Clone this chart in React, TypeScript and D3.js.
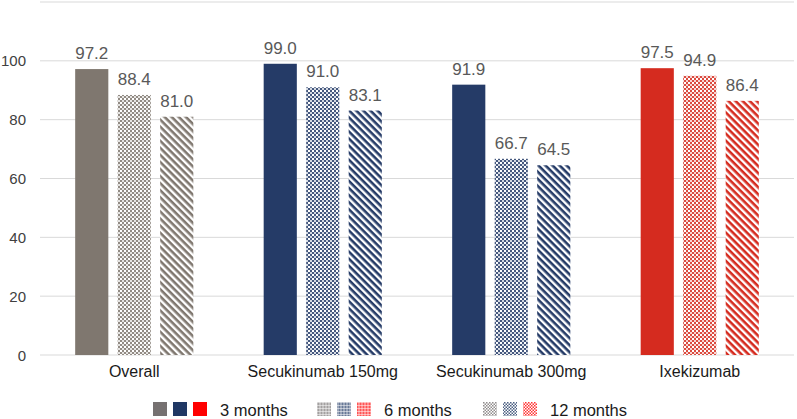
import React from "react";
import * as d3 from "d3";

const categories = ["Overall", "Secukinumab 150mg", "Secukinumab 300mg", "Ixekizumab"];
const seriesNames = ["3 months", "6 months", "12 months"];
const months3 = [97.2, 99.0, 91.9, 97.5];
const months6 = [88.4, 91.0, 66.7, 94.9];
const months12 = [81.0, 83.1, 64.5, 86.4];
const yTicks = [0, 20, 40, 60, 80, 100, 120];
const tickLabels = ["0", "20", "40", "60", "80", "100", ""];

const barColors = ["#7f776f", "#253b67", "#d52b1f"];
const legendColors = ["#767171", "#203864", "#ff0000"];

const W = 797;
const H = 419;
const FONT = "'Liberation Sans', Arial, sans-serif";

export default function App() {
  const series = [months3, months6, months12];
  const x0 = d3.scaleBand<string>().domain(categories).range([40, 794]).paddingInner(0).paddingOuter(0);
  const inner = d3.scaleBand<number>().domain([0, 1, 2]).range([-63.75, 63.75]).paddingInner(0.22).paddingOuter(0.11);
  const y = d3.scaleLinear().domain([0, 120]).range([355, 2]);

  const patId = (s: number, c: number) => {
    if (s === 0) return null;
    return `p${s}_${c}`;
  };

  const legendGroups = [
    { x: 153, label: seriesNames[0], s: 0 },
    { x: 317, label: seriesNames[1], s: 1 },
    { x: 483, label: seriesNames[2], s: 2 },
  ];

  return (
    <svg width={W} height={H} style={{ position: "absolute", left: 0, top: 0, background: "#fff" }} fontFamily={FONT}>
      <defs>
        {barColors.map((c, i) => (
          <React.Fragment key={i}>
            <pattern id={`p1_${i}`} width={4} height={4} patternUnits="userSpaceOnUse">
              <rect width={4} height={4} fill="#fff" />
              <rect x={0} y={0} width={2} height={2} fill={c} opacity={0.85} />
              <rect x={2} y={2} width={2} height={2} fill={c} opacity={0.85} />
              <rect x={2} y={0} width={2} height={2} fill={c} opacity={0.2} />
            </pattern>
            <pattern id={`p2_${i}`} width={5} height={5} patternUnits="userSpaceOnUse" patternTransform="rotate(45)">
              <rect width={5} height={5} fill="#fff" />
              <rect x={0} y={0} width={5} height={2.6} fill={c} />
            </pattern>
            <pattern id={`l1_${i}`} width={3} height={3} patternUnits="userSpaceOnUse">
              <rect width={3} height={3} fill={legendColors[i]} opacity={0.45} />
              <rect x={0} y={0} width={1} height={3} fill={legendColors[i]} opacity={0.4} />
              <rect x={0} y={0} width={3} height={1} fill="#fff" opacity={0.5} />
            </pattern>
            <pattern id={`l2_${i}`} width={3} height={3} patternUnits="userSpaceOnUse">
              <rect width={3} height={3} fill="#fff" />
              <rect x={0} y={0} width={1.5} height={1.5} fill={legendColors[i]} opacity={0.8} />
              <rect x={1.5} y={1.5} width={1.5} height={1.5} fill={legendColors[i]} opacity={0.8} />
            </pattern>
          </React.Fragment>
        ))}
      </defs>

      {yTicks.map((t, i) => (
        <g key={t}>
          <line x1={40} x2={794} y1={y(t)} y2={y(t)} stroke="#d9d9d9" strokeWidth={1} />
          <text x={26} y={y(t) + 5.5} textAnchor="end" fontSize={15} fill="#404040">
            {tickLabels[i]}
          </text>
        </g>
      ))}

      {categories.map((cat, ci) => {
        const cx = (x0(cat) as number) + x0.bandwidth() / 2;
        return (
          <g key={cat}>
            {series.map((vals, si) => {
              const bx = cx + (inner(si) as number);
              const bw = inner.bandwidth();
              const v = vals[ci];
              const pid = patId(si, ci === 0 ? 0 : ci === 3 ? 2 : 1);
              const fill = pid ? `url(#${pid})` : barColors[ci === 0 ? 0 : ci === 3 ? 2 : 1];
              return (
                <g key={si}>
                  <rect x={bx} y={y(v)} width={bw} height={y(0) - y(v)} fill={fill} />
                  <text x={bx + bw / 2} y={y(v) - 10} textAnchor="middle" fontSize={17} fill="#595959">
                    {v.toFixed(1)}
                  </text>
                </g>
              );
            })}
            <text x={cx} y={377} textAnchor="middle" fontSize={16} fill="#1a1a1a">
              {cat}
            </text>
          </g>
        );
      })}

      {legendGroups.map((g) => (
        <g key={g.label}>
          {legendColors.map((c, i) => (
            <rect
              key={i}
              x={g.x + i * 20}
              y={402}
              width={14}
              height={14}
              fill={g.s === 0 ? c : `url(#l${g.s}_${i})`}
            />
          ))}
          <text x={g.x + 67} y={415.5} fontSize={16.5} fill="#1a1a1a">
            {g.label}
          </text>
        </g>
      ))}
    </svg>
  );
}
